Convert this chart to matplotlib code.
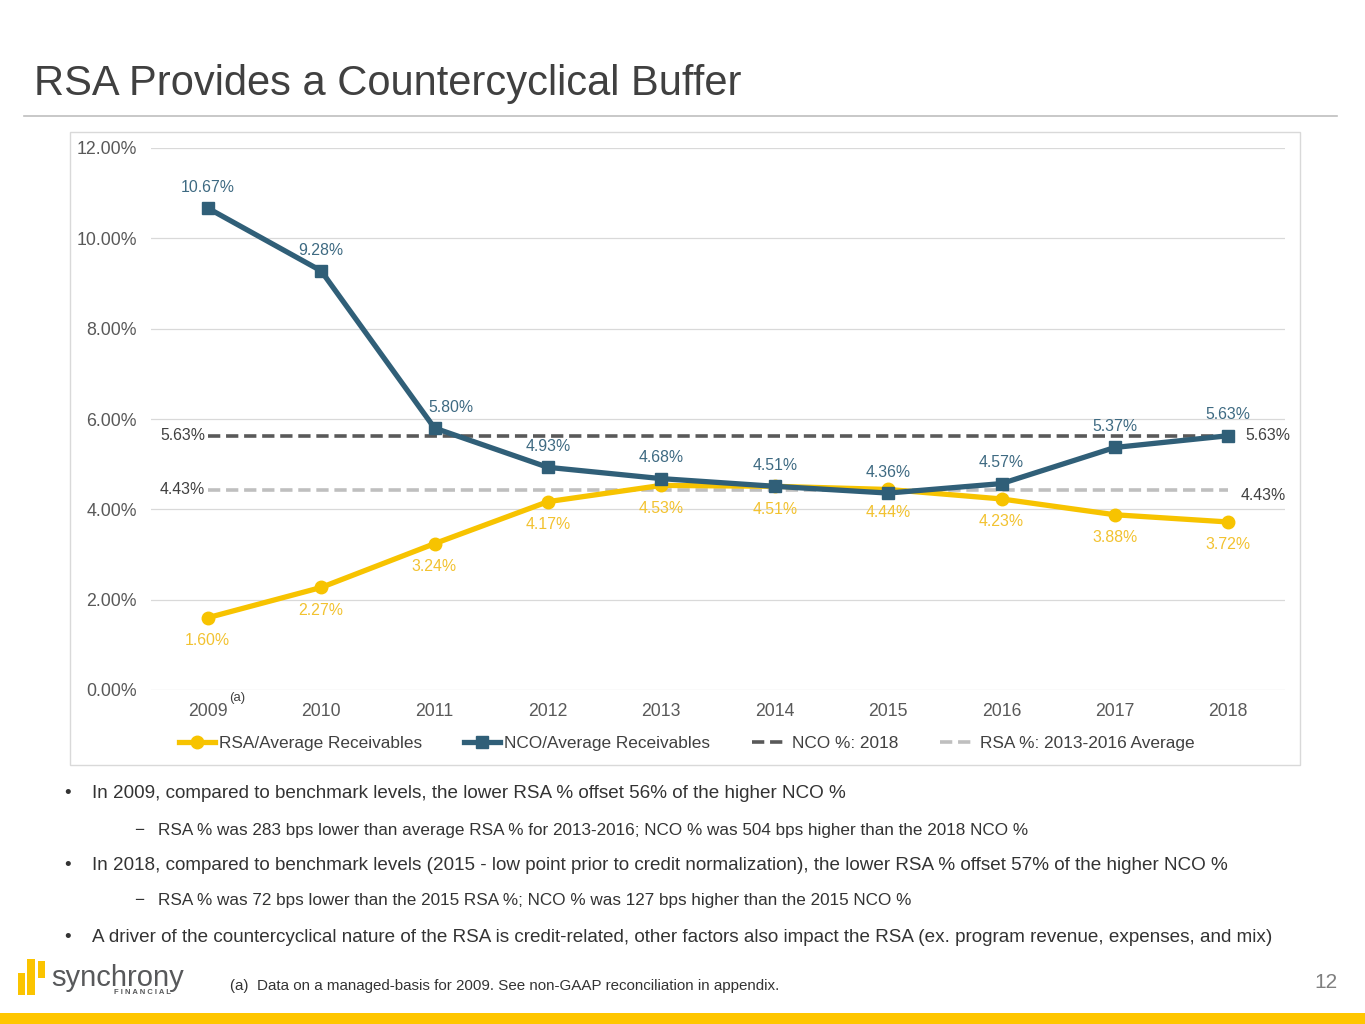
import matplotlib.pyplot as plt
from matplotlib.patches import Rectangle
from matplotlib.lines import Line2D
import numpy as np

plt.rcParams['font.family'] = ['Liberation Sans', 'DejaVu Sans']

years = ['2009', '2010', '2011', '2012', '2013', '2014', '2015', '2016', '2017', '2018']
rsa = [1.60, 2.27, 3.24, 4.17, 4.53, 4.51, 4.44, 4.23, 3.88, 3.72]
nco = [10.67, 9.28, 5.80, 4.93, 4.68, 4.51, 4.36, 4.57, 5.37, 5.63]
nco_2018 = 5.63
rsa_avg = 4.43

bullets = [
    ('•', 'In 2009, compared to benchmark levels, the lower RSA % offset 56% of the higher NCO %'),
    ('−', 'RSA % was 283 bps lower than average RSA % for 2013-2016; NCO % was 504 bps higher than the 2018 NCO %'),
    ('•', 'In 2018, compared to benchmark levels (2015 - low point prior to credit normalization), the lower RSA % offset 57% of the higher NCO %'),
    ('−', 'RSA % was 72 bps lower than the 2015 RSA %; NCO % was 127 bps higher than the 2015 NCO %'),
    ('•', 'A driver of the countercyclical nature of the RSA is credit-related, other factors also impact the RSA (ex. program revenue, expenses, and mix)'),
]

W, H = 1365, 1024
NCO_C = '#305F78'
RSA_C = '#F7C300'
TXT = '#404040'


def fx(x):
    return x / W


def fy(y):
    return 1 - y / H


fig = plt.figure(figsize=(13.65, 10.24), dpi=100)

# title + rule
fig.text(fx(34), fy(84), 'RSA Provides a Countercyclical Buffer', fontsize=30,
         color=TXT, va='center', ha='left')
fig.add_artist(Line2D([fx(24), fx(1337)], [fy(116), fy(116)], color='#BFBFBF', lw=1.2))

# chart frame
fig.add_artist(Rectangle((fx(70), fy(765)), fx(1300) - fx(70), fy(132) - fy(765),
                         transform=fig.transFigure, fill=False, edgecolor='#D9D9D9', lw=1))

ax = fig.add_axes([fx(151), fy(690), fx(1285) - fx(151), fy(148) - fy(690)])
x = np.arange(len(years))

ax.plot([0, 9], [nco_2018, nco_2018], color='#595959', lw=2.6, dashes=(3.4, 1.6), zorder=2,
        label='NCO %: 2018')
ax.plot([0, 9], [rsa_avg, rsa_avg], color='#BFBFBF', lw=2.6, dashes=(3.4, 1.6), zorder=2,
        label='RSA %: 2013-2016 Average')
ax.plot(x, rsa, color=RSA_C, lw=3.8, marker='o', markersize=9, zorder=3,
        label='RSA/Average Receivables')
ax.plot(x, nco, color=NCO_C, lw=3.8, marker='s', markersize=9, zorder=4,
        label='NCO/Average Receivables')

for i, v in enumerate(nco):
    dx = 11.5 if i == 2 else 0
    ax.annotate(f'{v:.2f}%', (i, v), xytext=(dx, 15), textcoords='offset points',
                ha='center', va='center', fontsize=11.4, color='#3E6A82', zorder=5)
for i, v in enumerate(rsa):
    ax.annotate(f'{v:.2f}%', (i, v), xytext=(0, -16.5), textcoords='offset points',
                ha='center', va='center', fontsize=11.4, color='#F2C230', zorder=5)

# benchmark line labels
ax.annotate(f'{nco_2018:.2f}%', (0, nco_2018), xytext=(-2, 0), textcoords='offset points',
            ha='right', va='center', fontsize=11.4, color=TXT)
ax.annotate(f'{nco_2018:.2f}%', (9, nco_2018), xytext=(12, 0), textcoords='offset points',
            ha='left', va='center', fontsize=11.4, color=TXT)
ax.annotate(f'{rsa_avg:.2f}%', (0, rsa_avg), xytext=(-2, 0), textcoords='offset points',
            ha='right', va='center', fontsize=11.4, color=TXT)
ax.annotate(f'{rsa_avg:.2f}%', (9, rsa_avg), xytext=(9, -4), textcoords='offset points',
            ha='left', va='center', fontsize=11.4, color=TXT)

ax.set_xlim(-0.5, 9.5)
ax.set_ylim(0, 12)
ax.set_yticks(np.arange(0, 13, 2))
ax.set_yticklabels([f'{t:.2f}%' for t in np.arange(0, 13, 2)])
ax.set_xticks(x)
ax.set_xticklabels(years)
ax.tick_params(length=0, colors='#595959')
ax.tick_params(axis='y', pad=10, labelsize=12.8)
ax.tick_params(axis='x', pad=9, labelsize=12.7)
ax.grid(axis='y', color='#D9D9D9', lw=0.9)
ax.set_axisbelow(True)
for s in ax.spines.values():
    s.set_visible(False)
ax.annotate('(a)', (0, 0), xytext=(21, -6), textcoords='offset points', fontsize=9.5,
            color=TXT, ha='center', va='center')

handles, labels = ax.get_legend_handles_labels()
order = [2, 3, 0, 1]
fig.legend([handles[i] for i in order], [labels[i] for i in order], ncol=4,
           loc='center', bbox_to_anchor=(fx(687), fy(743)), frameon=False, fontsize=12.4,
           handlelength=2.1, handletextpad=0.25, columnspacing=2.4, labelcolor='#404040')

# bullets
rows = [794, 830, 865, 901, 937]
for (sym, txt), yy in zip(bullets, rows):
    if sym == '•':
        fig.text(fx(64), fy(yy), sym, fontsize=13.6, color='#333333', va='center')
        fig.text(fx(92), fy(yy), txt, fontsize=13.6, color='#333333', va='center')
    else:
        fig.text(fx(134), fy(yy), sym, fontsize=12.3, color='#333333', va='center')
        fig.text(fx(158), fy(yy), txt, fontsize=12.3, color='#333333', va='center')

# footer logo
for x0, x1, y0, y1 in [(18, 25, 973, 995), (27, 35, 959, 995), (38, 45, 961, 978)]:
    fig.add_artist(Rectangle((fx(x0), fy(y1)), fx(x1) - fx(x0), fy(y0) - fy(y1),
                             transform=fig.transFigure, color='#FBC400', lw=0))
fig.text(fx(51), fy(986), 'synchrony', fontsize=21, color='#58595B', va='baseline')
fig.text(fx(142), fy(993), 'F I N A N C I A L', fontsize=5.5, color='#58595B', va='center',
         ha='center', fontweight='bold')
fig.text(fx(230), fy(986), '(a)  Data on a managed-basis for 2009. See non-GAAP reconciliation in appendix.',
         fontsize=10.9, color='#333333', va='center')
fig.text(fx(1337), fy(983), '12', fontsize=15, color='#7F7F7F', va='center', ha='right')
fig.add_artist(Rectangle((0, 0), 1, fy(1013), transform=fig.transFigure, color='#FFC600', lw=0))

fig.savefig('out.png', dpi=100)
